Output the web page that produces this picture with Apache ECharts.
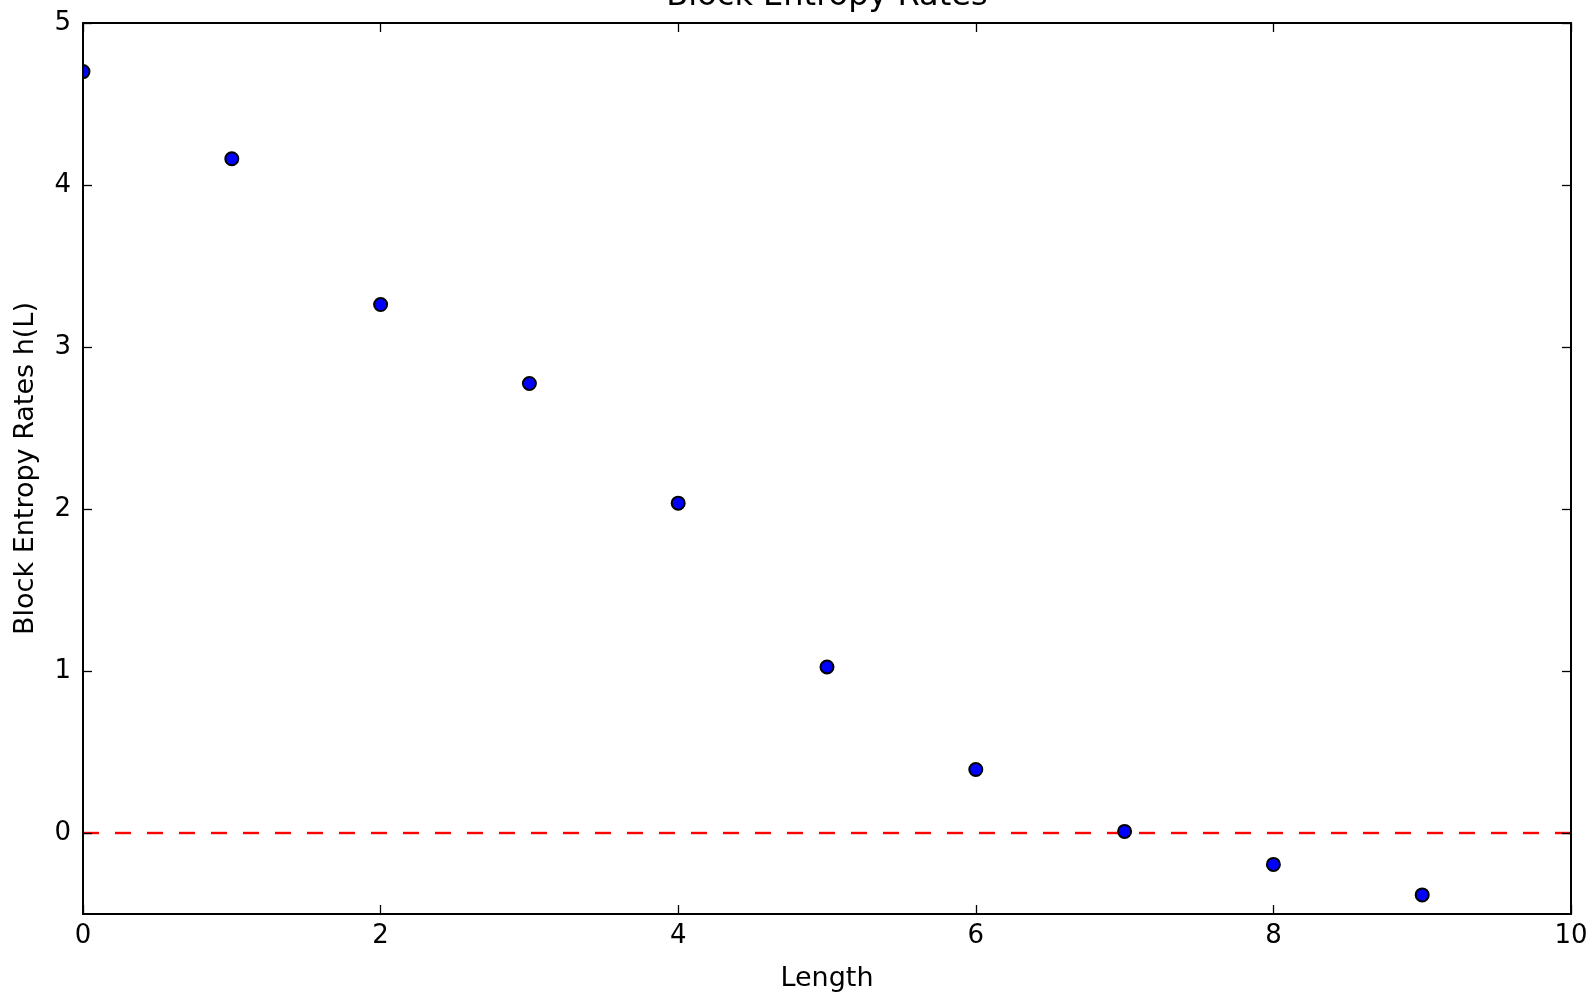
<!DOCTYPE html>
<html>
<head>
<meta charset="utf-8">
<script src="https://cdn.jsdelivr.net/npm/echarts@6/dist/echarts.min.js"></script>
<style>html,body{margin:0;padding:0;background:#fff;}#c{width:1593px;height:997px;}</style>
</head>
<body>
<div id="c"></div>
<script>
var lengths = [0, 1, 2, 3, 4, 5, 6, 7, 8, 9];
var rates = [4.700, 4.162, 3.262, 2.775, 2.036, 1.025, 0.392, 0.010, -0.194, -0.382];
var xTicks = [0, 2, 4, 6, 8, 10];
var yTicks = [0, 1, 2, 3, 4, 5];
var titleText = 'Block Entropy Rates';
var xName = 'Length';
var yName = 'Block Entropy Rates h(L)';

var FONT = 'DejaVu Sans';
var chart = echarts.init(document.getElementById('c'), null, {renderer: 'canvas'});
var pts = lengths.map(function (x, i) { return [x, rates[i]]; });
var axLine = {show: true, onZero: false, lineStyle: {color: '#000', width: 2}};
var axTick = {show: true, inside: true, length: 9, lineStyle: {color: '#000', width: 1.3}};
var lbl = {color: '#000', fontFamily: FONT, fontSize: 26};

chart.setOption({
  animation: false,
  backgroundColor: '#fff',
  grid: {left: 83, right: 22, top: 23, bottom: 81, containLabel: false},
  graphic: [
    {type: 'rect', z: 5, shape: {x: 0, y: 23, width: 82, height: 893}, style: {fill: '#fff'}},
    {type: 'text', z: 20, x: 827, y: 13,
     style: {text: titleText, font: '32px "DejaVu Sans"', fill: '#000', textAlign: 'center', textVerticalAlign: 'bottom'}}
  ],
  xAxis: [
    {type: 'value', min: 0, max: 10, interval: 2, position: 'bottom', z: 10,
     axisLine: axLine, axisTick: axTick, splitLine: {show: false},
     axisLabel: Object.assign({margin: 9, formatter: function (v) { return xTicks.indexOf(v) >= 0 ? String(v) : ''; }}, lbl),
     name: xName, nameLocation: 'middle', nameGap: 51,
     nameTextStyle: {color: '#000', fontFamily: FONT, fontSize: 27}},
    {type: 'value', min: 0, max: 10, interval: 2, position: 'top', z: 10,
     axisLine: axLine, axisTick: axTick, splitLine: {show: false}, axisLabel: {show: false}}
  ],
  yAxis: [
    {type: 'value', min: -0.5, max: 5, position: 'left', z: 10,
     axisLine: axLine, axisTick: Object.assign({customValues: yTicks}, axTick), splitLine: {show: false},
     axisLabel: Object.assign({margin: 12, customValues: yTicks, formatter: function (v) { return String(v); }}, lbl),
     name: yName, nameLocation: 'middle', nameGap: 44,
     nameTextStyle: {color: '#000', fontFamily: FONT, fontSize: 27}},
    {type: 'value', min: -0.5, max: 5, position: 'right', z: 10,
     axisLine: axLine, axisTick: Object.assign({customValues: yTicks}, axTick), splitLine: {show: false}, axisLabel: {show: false}}
  ],
  series: [
    {type: 'scatter', xAxisIndex: 0, yAxisIndex: 0, z: 3,
     data: pts, symbol: 'circle', symbolSize: 13,
     itemStyle: {color: '#0000ff', borderColor: '#000', borderWidth: 2, opacity: 1},
     markLine: {silent: true, symbol: 'none', label: {show: false}, z: 2,
       lineStyle: {color: '#ff0000', width: 2.4, type: [16, 16], opacity: 1},
       emphasis: {disabled: true},
       data: [{yAxis: 0}]}}
  ]
});
</script>
</body>
</html>
